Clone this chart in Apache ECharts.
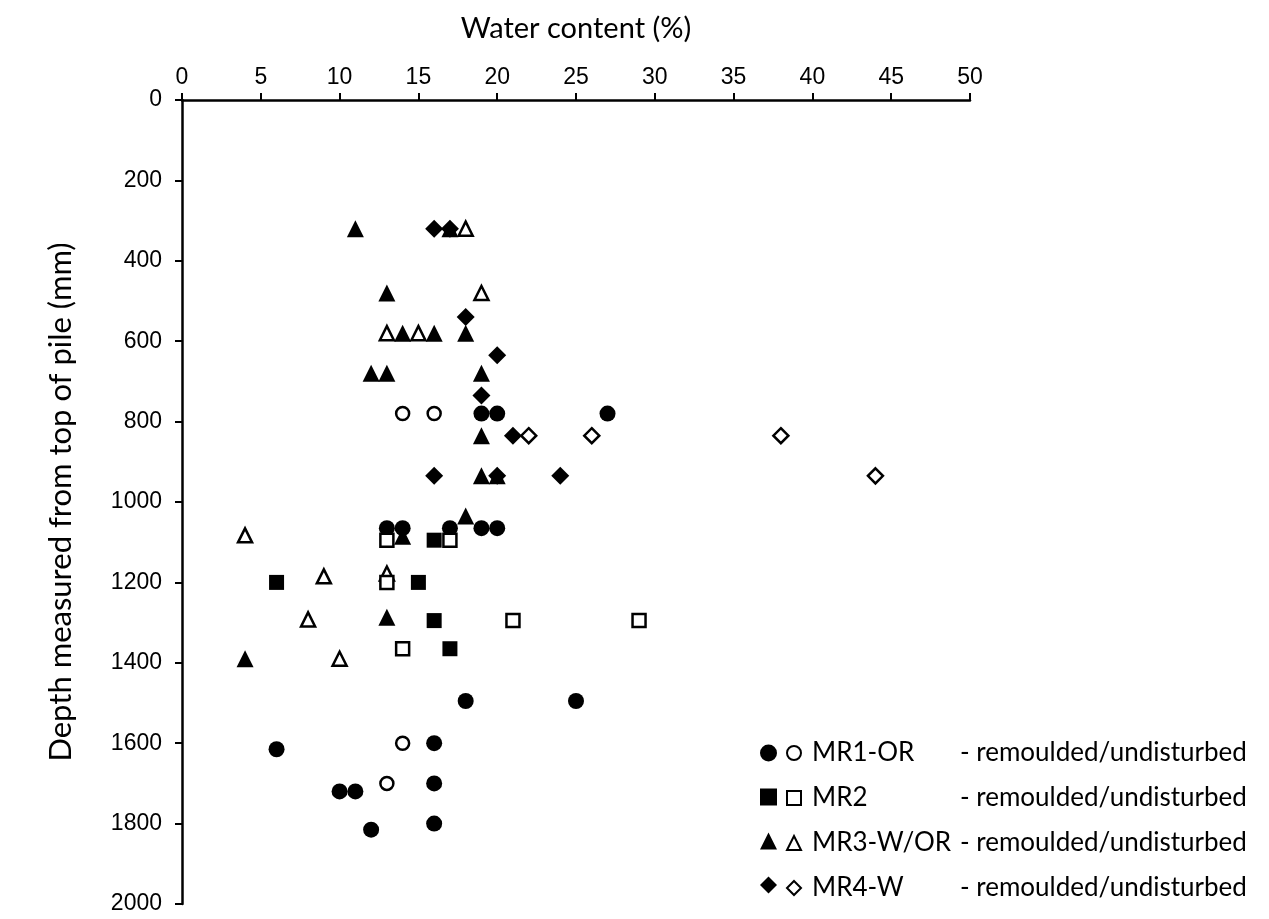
<!DOCTYPE html>
<html><head><meta charset="utf-8">
<script src="https://cdn.jsdelivr.net/npm/echarts@6/dist/echarts.min.js"></script>
<style>html,body{margin:0;padding:0;background:#fff}#c{width:1269px;height:919px}</style>
</head><body><div id="c"></div>
<script>
const xTicks = [0,5,10,15,20,25,30,35,40,45,50];
const yTicks = [0,200,400,600,800,1000,1200,1400,1600,1800,2000];
const seriesNames = ['MR1-OR','MR2','MR3-W/OR','MR4-W'];
const legendSuffix = '- remoulded/undisturbed';

const mr1Remoulded = [[19,780],[20,780],[27,780],[13,1065],[14,1065],[17,1065],[19,1065],[20,1065],[18,1495],[25,1495],[6,1615],[16,1600],[16,1700],[10,1720],[11,1720],[12,1815],[16,1800]];
const mr1Undisturbed = [[14,780],[16,780],[14,1600],[13,1700]];
const mr2Remoulded = [[16,1095],[6,1200],[15,1200],[16,1295],[17,1365]];
const mr2Undisturbed = [[13,1095],[17,1095],[13,1200],[21,1295],[29,1295],[14,1365]];
const mr3Remoulded = [[11,320],[17,320],[13,480],[14,580],[16,580],[18,580],[12,680],[13,680],[19,680],[19,835],[19,935],[20,935],[18,1035],[14,1085],[13,1287],[4,1390]];
const mr3Undisturbed = [[18,320],[19,480],[13,580],[15,580],[4,1083],[9,1185],[13,1178],[8,1292],[10,1390]];
const mr4Remoulded = [[16,320],[17,320],[18,540],[20,635],[19,735],[21,835],[16,935],[20,935],[24,935]];
const mr4Undisturbed = [[22,835],[26,835],[38,835],[44,935]];

const FONT = 'Lato';
const NUMFONT = 'Liberation Sans';
const chart = echarts.init(document.getElementById('c'));

function filled(name, data, symbol, size){
  return {type:'scatter', name:name+' R', data:data, symbol:symbol, symbolSize:size,
    itemStyle:{color:'#000', opacity:1}, emphasis:{disabled:true}};
}
function open(name, data, symbol, size){
  return {type:'scatter', name:name, data:data, symbol:symbol, symbolSize:size,
    itemStyle:{color:'#fff', borderColor:'#000', borderWidth:2.5, opacity:1}, emphasis:{disabled:true}};
}

const series = [
  filled(seriesNames[0], mr1Remoulded, 'circle', 16),
  open(seriesNames[0], mr1Undisturbed, 'circle', 13),
  filled(seriesNames[2], mr3Remoulded, 'triangle', 17),
  open(seriesNames[2], mr3Undisturbed, 'triangle', 14),
  filled(seriesNames[1], mr2Remoulded, 'rect', 15),
  open(seriesNames[1], mr2Undisturbed, 'rect', 13),
  filled(seriesNames[3], mr4Remoulded, 'diamond', 18),
  open(seriesNames[3], mr4Undisturbed, 'diamond', 15)
];

const labelStyle = {fontFamily:NUMFONT, fontSize:23, color:'#000'};

chart.setOption({
  animation:false,
  backgroundColor:'#fff',
  grid:{left:182, right:299, top:100, bottom:15, containLabel:false, outerBoundsMode:'none'},
  xAxis:{type:'value', position:'top', min:0, max:50, interval:5,
    name:'Water content (%)', nameLocation:'middle', nameGap:57,
    nameTextStyle:{fontFamily:FONT, fontSize:29, color:'#000'},
    axisLine:{show:true, onZero:false, lineStyle:{color:'#000', width:2.5}},
    axisTick:{show:true, length:7, lineStyle:{color:'#000', width:2}},
    axisLabel:{...labelStyle, margin:11, formatter:v=>String(v)},
    splitLine:{show:false}},
  yAxis:{type:'value', inverse:true, min:0, max:2000, interval:200,
    name:'Depth measured from top of pile (mm)', nameLocation:'middle', nameGap:106, nameRotate:90,
    nameTextStyle:{fontFamily:FONT, fontSize:31, color:'#000'},
    axisLine:{show:true, onZero:false, lineStyle:{color:'#000', width:2.5}},
    axisTick:{show:true, length:7, lineStyle:{color:'#000', width:2}},
    axisLabel:{...labelStyle, margin:20, formatter:v=>String(v)},
    splitLine:{show:false}},
  legend:[
    {orient:'vertical', left:755, top:734, itemWidth:17, itemHeight:17, itemGap:16,
     selectedMode:false, data:seriesNames.map(n=>n+' R'),
     formatter:()=>' ', textStyle:{fontFamily:FONT, fontSize:26, lineHeight:28}},
    {orient:'vertical', left:781, top:734, itemWidth:14, itemHeight:14, itemGap:17,
     selectedMode:false, data:seriesNames,
     formatter:n=>'{a|'+n+'}{b|'+legendSuffix+'}',
     textStyle:{fontFamily:FONT, fontSize:26, lineHeight:28, color:'#000',
       rich:{a:{fontFamily:FONT, fontSize:26, width:148, color:'#000', padding:[0,0,0,6]},
             b:{fontFamily:FONT, fontSize:26, color:'#000'}}}}
  ],
  series:series
});
</script></body></html>
